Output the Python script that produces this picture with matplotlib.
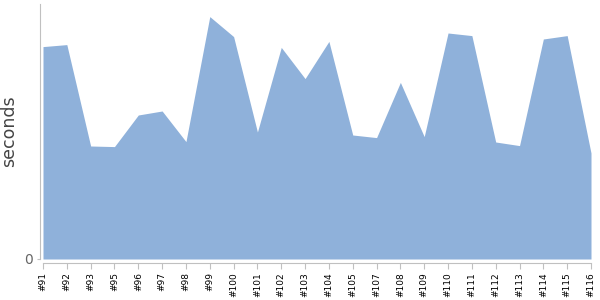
import matplotlib
matplotlib.use("Agg")
import matplotlib.pyplot as plt

builds = ["#91", "#92", "#93", "#95", "#96", "#97", "#98", "#99", "#100",
          "#101", "#102", "#103", "#104", "#105", "#107", "#108", "#109",
          "#110", "#111", "#112", "#113", "#114", "#115", "#116"]
seconds = [106.2, 107.2, 56.5, 56.2, 72.0, 74.0, 58.7, 121.2, 111.2,
           63.5, 105.8, 90.2, 108.8, 62.0, 60.7, 88.3, 61.2,
           113.0, 111.7, 58.5, 56.7, 110.0, 111.7, 53.0]

fill_color = "#8fb1da"
axis_color = "#c0c0c0"

fig = plt.figure(figsize=(6, 3), dpi=100)
ax = fig.add_axes([43 / 600, 41 / 300, 548 / 600, 255 / 300])

# spines first: set_position resets the ticks
for side in ["top", "right"]:
    ax.spines[side].set_visible(False)
ax.spines["left"].set_position(("outward", 2.5))
ax.spines["bottom"].set_position(("outward", 3))
ax.spines["left"].set_color(axis_color)
ax.spines["bottom"].set_color(axis_color)

x = list(range(len(builds)))
ax.fill_between(x, seconds, 0, color=fill_color, linewidth=0)

ax.set_xlim(0, len(builds) - 1)
ax.set_ylim(0, 127.5)

ax.tick_params(axis="x", length=4, color=axis_color, pad=2.5)
ax.tick_params(axis="y", length=2, color=axis_color, pad=3)
ax.set_xticks(x)
ax.set_xticklabels(builds, fontsize=6.5, color="black")
ax.set_yticks([0])
ax.set_yticklabels(["0"], fontsize=10, color="#666666")
for lbl in ax.get_xticklabels():
    lbl.set_rotation(90)
    lbl.set_rotation_mode("default")
    lbl.set_ha("center")
    lbl.set_va("top")

ax.set_ylabel("seconds", fontsize=12.5, color="#444444")
ax.yaxis.set_label_coords(-25 / 548, 0.5)

fig.savefig("out.png", dpi=100)
